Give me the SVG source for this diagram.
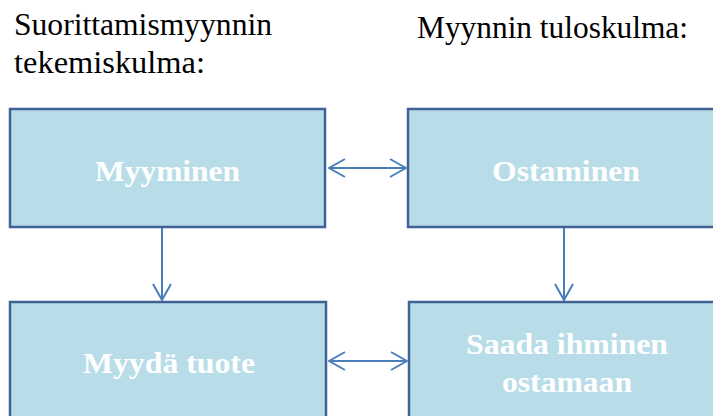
<svg xmlns="http://www.w3.org/2000/svg" width="713" height="416" viewBox="0 0 713 416">
<style>
.box{fill:#b8dde8;stroke:#3e6394;stroke-width:2.5}
.lbl{font-family:"Liberation Serif","Times New Roman",serif;font-weight:bold;font-size:30px;fill:#ffffff}
.hdr{font-family:"Liberation Serif","Times New Roman",serif;font-size:32px;fill:#000}
.con{stroke:#4a7ebb;stroke-width:2;fill:none}
</style>
<defs>
<marker id="ah" markerWidth="18" markerHeight="20" refX="17" refY="10" orient="auto-start-reverse" markerUnits="userSpaceOnUse">
<path d="M1,1 L17,10 L1,19" fill="none" stroke="#4a7ebb" stroke-width="2"/>
</marker>
</defs>
<g id="headers">
<text class="hdr" x="14" y="35" textLength="258" lengthAdjust="spacingAndGlyphs">Suorittamismyynnin</text>
<text class="hdr" x="14" y="73" textLength="191" lengthAdjust="spacingAndGlyphs">tekemiskulma:</text>
<text class="hdr" x="417" y="38" textLength="271" lengthAdjust="spacingAndGlyphs">Myynnin tuloskulma:</text>
</g>
<g id="node-myyminen">
<rect class="box" x="10" y="109" width="315" height="118"/>
<text class="lbl" x="95" y="181" textLength="145" lengthAdjust="spacingAndGlyphs">Myyminen</text>
</g>
<g id="node-ostaminen">
<rect class="box" x="408" y="109" width="320" height="118"/>
<text class="lbl" x="492" y="181" textLength="148" lengthAdjust="spacingAndGlyphs">Ostaminen</text>
</g>
<g id="node-myyda">
<rect class="box" x="10" y="302" width="316" height="130"/>
<text class="lbl" x="83" y="373" textLength="172" lengthAdjust="spacingAndGlyphs">Myydä tuote</text>
</g>
<g id="node-saada">
<rect class="box" x="409" y="302" width="320" height="130"/>
<text class="lbl" x="466" y="354" textLength="202" lengthAdjust="spacingAndGlyphs">Saada ihminen</text>
<text class="lbl" x="502" y="392" textLength="130" lengthAdjust="spacingAndGlyphs">ostamaan</text>
</g>
<g id="connectors">
<line class="con" x1="329" y1="168" x2="406" y2="168" marker-start="url(#ah)" marker-end="url(#ah)"/>
<line class="con" x1="329" y1="361" x2="407" y2="361" marker-start="url(#ah)" marker-end="url(#ah)"/>
<line class="con" x1="162" y1="228" x2="162" y2="300" marker-end="url(#ah)"/>
<line class="con" x1="564" y1="228" x2="564" y2="300" marker-end="url(#ah)"/>
</g>
</svg>
